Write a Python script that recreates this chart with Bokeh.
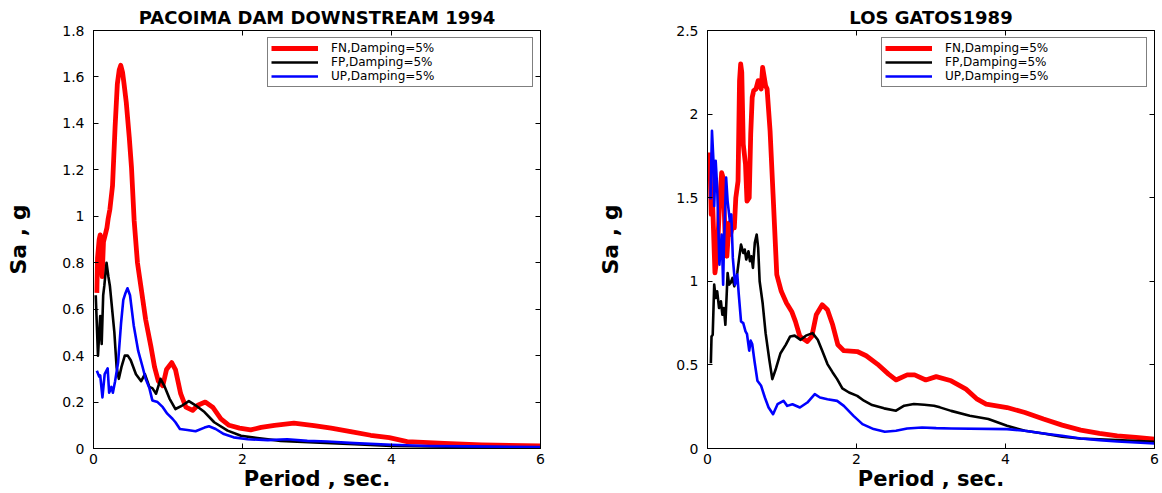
from bokeh.plotting import figure
from bokeh.models import FixedTicker, LinearAxis, Range1d, CustomLabelingPolicy
from bokeh.layouts import row
from bokeh.embed import file_html
from bokeh.resources import INLINE

# ---------------- data ----------------
x_ticks = [0, 2, 4, 6]
x_tick_labels = ["0", "2", "4", "6"]

left_title = "PACOIMA DAM DOWNSTREAM 1994"
left_y_ticks = [0, 0.2, 0.4, 0.6, 0.8, 1, 1.2, 1.4, 1.6, 1.8]
left_y_tick_labels = ["0", "0.2", "0.4", "0.6", "0.8", "1", "1.2", "1.4", "1.6", "1.8"]

pac_fn_T = [0.045, 0.054, 0.076, 0.09, 0.107, 0.116, 0.134, 0.15, 0.18, 0.197,
            0.22, 0.255, 0.29, 0.32, 0.345, 0.366, 0.39, 0.41, 0.44, 0.48,
            0.51, 0.546, 0.59, 0.635, 0.70, 0.77, 0.82, 0.87, 0.93, 0.98,
            1.05, 1.1, 1.17, 1.24, 1.33, 1.4, 1.5, 1.6, 1.71, 1.82,
            1.96, 2.11, 2.25, 2.43, 2.69, 2.96, 3.19, 3.47, 3.72, 3.97,
            4.21, 4.71, 5.21, 6.0]
pac_fn_sa = [0.67, 0.82, 0.90, 0.92, 0.79, 0.74, 0.89, 0.91, 0.95, 0.99,
             1.03, 1.13, 1.386, 1.57, 1.63, 1.65, 1.62, 1.57, 1.49, 1.34,
             1.21, 0.98, 0.80, 0.70, 0.555, 0.44, 0.35, 0.29, 0.27, 0.34,
             0.37, 0.34, 0.236, 0.178, 0.164, 0.186, 0.2, 0.178, 0.128, 0.1,
             0.088, 0.08, 0.091, 0.10, 0.109, 0.099, 0.088, 0.072, 0.057, 0.047,
             0.03, 0.022, 0.016, 0.011]

pac_fp_T = [0.03, 0.06, 0.09, 0.11, 0.13, 0.145, 0.175, 0.2, 0.22, 0.25,
            0.28, 0.31, 0.34, 0.375, 0.42, 0.46, 0.50, 0.57, 0.64, 0.69,
            0.75, 0.79, 0.84, 0.9, 0.95, 1.02, 1.1, 1.19, 1.28, 1.37,
            1.49, 1.62, 1.8, 1.98, 2.2, 2.51, 2.96, 3.5, 4.0, 5.0, 6.0]
pac_fp_sa = [0.66, 0.40, 0.57, 0.45, 0.66, 0.70, 0.80, 0.74, 0.70, 0.60,
             0.50, 0.35, 0.30, 0.35, 0.40, 0.40, 0.38, 0.32, 0.29, 0.32,
             0.265, 0.26, 0.236, 0.30, 0.27, 0.215, 0.17, 0.185, 0.204, 0.186,
             0.157, 0.113, 0.077, 0.055, 0.045, 0.033, 0.026, 0.018, 0.011, 0.007, 0.004]

pac_up_T = [0.045, 0.076, 0.09, 0.12, 0.15, 0.19, 0.21, 0.24, 0.26, 0.29,
            0.33, 0.37, 0.4, 0.43, 0.456, 0.49, 0.54, 0.6, 0.66, 0.70,
            0.75, 0.79, 0.86, 0.93, 0.99, 1.06, 1.1, 1.16, 1.26, 1.37,
            1.49, 1.55, 1.64, 1.75, 1.88, 2.07, 2.34, 2.6, 2.87, 3.14,
            3.5, 4.0, 4.5, 5.0, 6.0]
pac_up_sa = [0.335, 0.31, 0.315, 0.22, 0.32, 0.345, 0.24, 0.265, 0.24, 0.29,
             0.37, 0.54, 0.64, 0.67, 0.69, 0.66, 0.53, 0.42, 0.35, 0.30,
             0.26, 0.207, 0.2, 0.178, 0.15, 0.128, 0.113, 0.084, 0.08, 0.074,
             0.09, 0.096, 0.084, 0.062, 0.048, 0.04, 0.036, 0.04, 0.033, 0.03,
             0.023, 0.016, 0.011, 0.009, 0.006]

right_title = "LOS GATOS1989"
right_y_ticks = [0, 0.5, 1, 1.5, 2, 2.5]
right_y_tick_labels = ["0", "0.5", "1", "1.5", "2", "2.5"]

lg_fn_T = [0.03, 0.05, 0.07, 0.1, 0.13, 0.16, 0.19, 0.21, 0.24, 0.26,
           0.29, 0.31, 0.33, 0.36, 0.38, 0.41, 0.43, 0.445, 0.46, 0.48,
           0.51, 0.53, 0.56, 0.58, 0.6, 0.62, 0.65, 0.68, 0.72, 0.74,
           0.78, 0.8, 0.84, 0.88, 0.93, 0.99, 1.06, 1.13, 1.18, 1.24,
           1.34, 1.4, 1.46, 1.54, 1.61, 1.68, 1.75, 1.83, 2.01, 2.13,
           2.28, 2.43, 2.53, 2.68, 2.78, 2.93, 3.07, 3.27, 3.47, 3.62,
           3.74, 4.02, 4.26, 4.51, 4.76, 5.01, 5.26, 5.5, 5.75, 6.0]
lg_fn_sa = [1.77, 1.40, 1.45, 1.05, 1.15, 1.45, 1.65, 1.62, 1.22, 1.15,
            1.35, 1.28, 1.32, 1.32, 1.5, 1.6, 2.2, 2.3, 2.25, 1.82,
            1.7, 1.48, 1.5, 1.88, 2.1, 2.14, 2.15, 2.2, 2.15, 2.28,
            2.17, 2.15, 1.9, 1.52, 1.04, 0.94, 0.87, 0.82, 0.76, 0.67,
            0.64, 0.67, 0.80, 0.86, 0.83, 0.74, 0.62, 0.585, 0.58, 0.555,
            0.505, 0.445, 0.41, 0.44, 0.44, 0.41, 0.43, 0.405, 0.355, 0.295,
            0.265, 0.245, 0.215, 0.176, 0.14, 0.11, 0.09, 0.076, 0.066, 0.056]

lg_fp_T = [0.045, 0.054, 0.07, 0.09, 0.11, 0.13, 0.155, 0.18, 0.2, 0.22,
           0.24, 0.27, 0.29, 0.31, 0.335, 0.36, 0.4, 0.425, 0.45, 0.48,
           0.5, 0.52, 0.55, 0.57, 0.59, 0.61, 0.635, 0.66, 0.68, 0.7,
           0.74, 0.78, 0.83, 0.87, 0.92, 0.98, 1.05, 1.11, 1.17, 1.25,
           1.32, 1.41, 1.48, 1.54, 1.61, 1.68, 1.74, 1.81, 1.9, 2.01,
           2.1, 2.21, 2.37, 2.53, 2.64, 2.77, 2.91, 3.04, 3.12, 3.27,
           3.52, 3.77, 4.02, 4.26, 4.51, 4.76, 5.0, 5.5, 6.0]
lg_fp_sa = [0.51, 0.67, 0.68, 0.98, 0.9, 0.94, 0.84, 0.88, 0.8, 0.84,
            0.74, 1.05, 0.98, 0.99, 1.02, 0.97, 1.05, 1.14, 1.22, 1.17,
            1.19, 1.13, 1.18, 1.12, 1.15, 1.08, 1.23, 1.28, 1.2, 1.0,
            0.87, 0.69, 0.53, 0.415, 0.48, 0.57, 0.62, 0.67, 0.675, 0.65,
            0.675, 0.69, 0.65, 0.585, 0.505, 0.455, 0.415, 0.36, 0.335, 0.315,
            0.286, 0.26, 0.24, 0.226, 0.256, 0.266, 0.262, 0.256, 0.246, 0.225,
            0.196, 0.176, 0.136, 0.106, 0.09, 0.07, 0.06, 0.05, 0.04]

lg_up_T = [0.04, 0.06, 0.08, 0.09, 0.11, 0.13, 0.16, 0.19, 0.21, 0.22,
           0.25, 0.27, 0.30, 0.32, 0.34, 0.37, 0.40, 0.42, 0.45, 0.48,
           0.51, 0.53, 0.56, 0.58, 0.60, 0.63, 0.67, 0.72, 0.77, 0.82,
           0.88, 0.94, 1.02, 1.07, 1.14, 1.24, 1.34, 1.44, 1.51, 1.61,
           1.74, 1.83, 1.96, 2.08, 2.23, 2.38, 2.53, 2.68, 2.88, 3.07,
           3.27, 4.02, 4.26, 4.51, 4.76, 5.01, 5.26, 5.5, 6.0]
lg_up_sa = [1.49, 1.9, 1.72, 1.45, 1.72, 1.56, 1.1, 1.28, 0.98, 1.2,
            1.62, 1.48, 1.36, 1.4, 1.14, 0.98, 1.04, 0.92, 0.76, 0.75,
            0.70, 0.685, 0.585, 0.645, 0.625, 0.525, 0.405, 0.375, 0.305, 0.245,
            0.205, 0.265, 0.285, 0.255, 0.265, 0.245, 0.275, 0.325, 0.305, 0.295,
            0.285, 0.255, 0.195, 0.146, 0.116, 0.10, 0.106, 0.12, 0.126, 0.122,
            0.12, 0.116, 0.106, 0.09, 0.076, 0.06, 0.05, 0.042, 0.03]

legend_labels = ["FN,Damping=5%", "FP,Damping=5%", "UP,Damping=5%"]
series_colors = ["#ff0000", "#000000", "#0000ff"]
series_widths = [4.8, 2.6, 2.6]

x_label = "Period , sec."
y_label = "Sa , g"

FONT = "DejaVu Sans"


def style_axis(ax, ticks, labels, show_labels=True):
    ax.ticker = FixedTicker(ticks=ticks)
    ax.minor_tick_line_color = None
    ax.major_tick_in = 5
    ax.major_tick_out = 0
    ax.axis_line_color = "black"
    ax.major_tick_line_color = "black"
    if show_labels:
        ax.major_label_overrides = {t: s for t, s in zip(ticks, labels)}
        ax.major_label_text_font = FONT
        ax.major_label_text_font_size = "14px"
        ax.major_label_text_color = "black"
    else:
        # mirrored axes: ticks only, no labels drawn and no space taken
        ax.major_label_policy = CustomLabelingPolicy(
            code="for (const i of indices) indices.unset(i); return indices")
        ax.major_label_text_font_size = "0px"
        ax.major_label_standoff = 0


def make_fig(title, ymax, yticks, ylabels, series, width, bl, br, ylab_standoff):
    p = figure(width=width, height=493, x_range=Range1d(0, 6), y_range=Range1d(0, ymax),
               output_backend="svg", toolbar_location=None,
               min_border_left=bl, min_border_right=br,
               min_border_top=30, min_border_bottom=45)
    p.background_fill_color = "white"
    p.border_fill_color = "white"
    p.outline_line_color = "black"
    p.outline_line_width = 1
    p.xgrid.visible = False
    p.ygrid.visible = False

    p.title.text = title
    p.title.text_font = FONT
    p.title.text_font_style = "bold"
    p.title.text_font_size = "18px"
    p.title.text_color = "black"
    p.title.align = "center"
    p.title.standoff = 6

    style_axis(p.xaxis[0], x_ticks, x_tick_labels)
    p.xaxis.major_label_standoff = 5
    p.xaxis.axis_label = x_label
    p.xaxis.axis_label_text_font = FONT
    p.xaxis.axis_label_text_font_style = "bold"
    p.xaxis.axis_label_text_font_size = "21px"
    p.xaxis.axis_label_text_color = "black"
    p.xaxis.axis_label_standoff = 0

    style_axis(p.yaxis[0], yticks, ylabels)
    p.yaxis.major_label_standoff = 9
    p.yaxis.axis_label = y_label
    p.yaxis.axis_label_text_font = FONT
    p.yaxis.axis_label_text_font_style = "bold"
    p.yaxis.axis_label_text_font_size = "22px"
    p.yaxis.axis_label_text_color = "black"
    p.yaxis.axis_label_standoff = ylab_standoff

    top = LinearAxis()
    style_axis(top, x_ticks, x_tick_labels, show_labels=False)
    p.add_layout(top, "above")
    right = LinearAxis()
    style_axis(right, yticks, ylabels, show_labels=False)
    p.add_layout(right, "right")

    for (T, sa), lab, col, w in zip(series, legend_labels, series_colors, series_widths):
        p.line(T, sa, line_color=col, line_width=w, legend_label=lab, line_join="round")

    lg = p.legend[0]
    lg.location = "top_right"
    lg.margin = 7
    lg.padding = 3
    lg.spacing = 0
    lg.glyph_width = 47
    lg.glyph_height = 12
    lg.label_height = 12
    lg.label_standoff = 13
    lg.label_width = 198
    lg.label_text_font = FONT
    lg.label_text_font_size = "12px"
    lg.label_text_color = "black"
    lg.border_line_color = "black"
    lg.border_line_width = 1.5
    lg.background_fill_alpha = 1
    return p


p1 = make_fig(left_title, 1.8, left_y_ticks, left_y_tick_labels,
              [(pac_fn_T, pac_fn_sa), (pac_fp_T, pac_fp_sa), (pac_up_T, pac_up_sa)],
              581, 93, 41, 28)
p2 = make_fig(right_title, 2.5, right_y_ticks, right_y_tick_labels,
              [(lg_fn_T, lg_fn_sa), (lg_fp_T, lg_fp_sa), (lg_up_T, lg_up_sa)],
              581, 126, 8, 50)

layout = row(p1, p2)
open("out.html", "w").write(file_html(layout, INLINE))
